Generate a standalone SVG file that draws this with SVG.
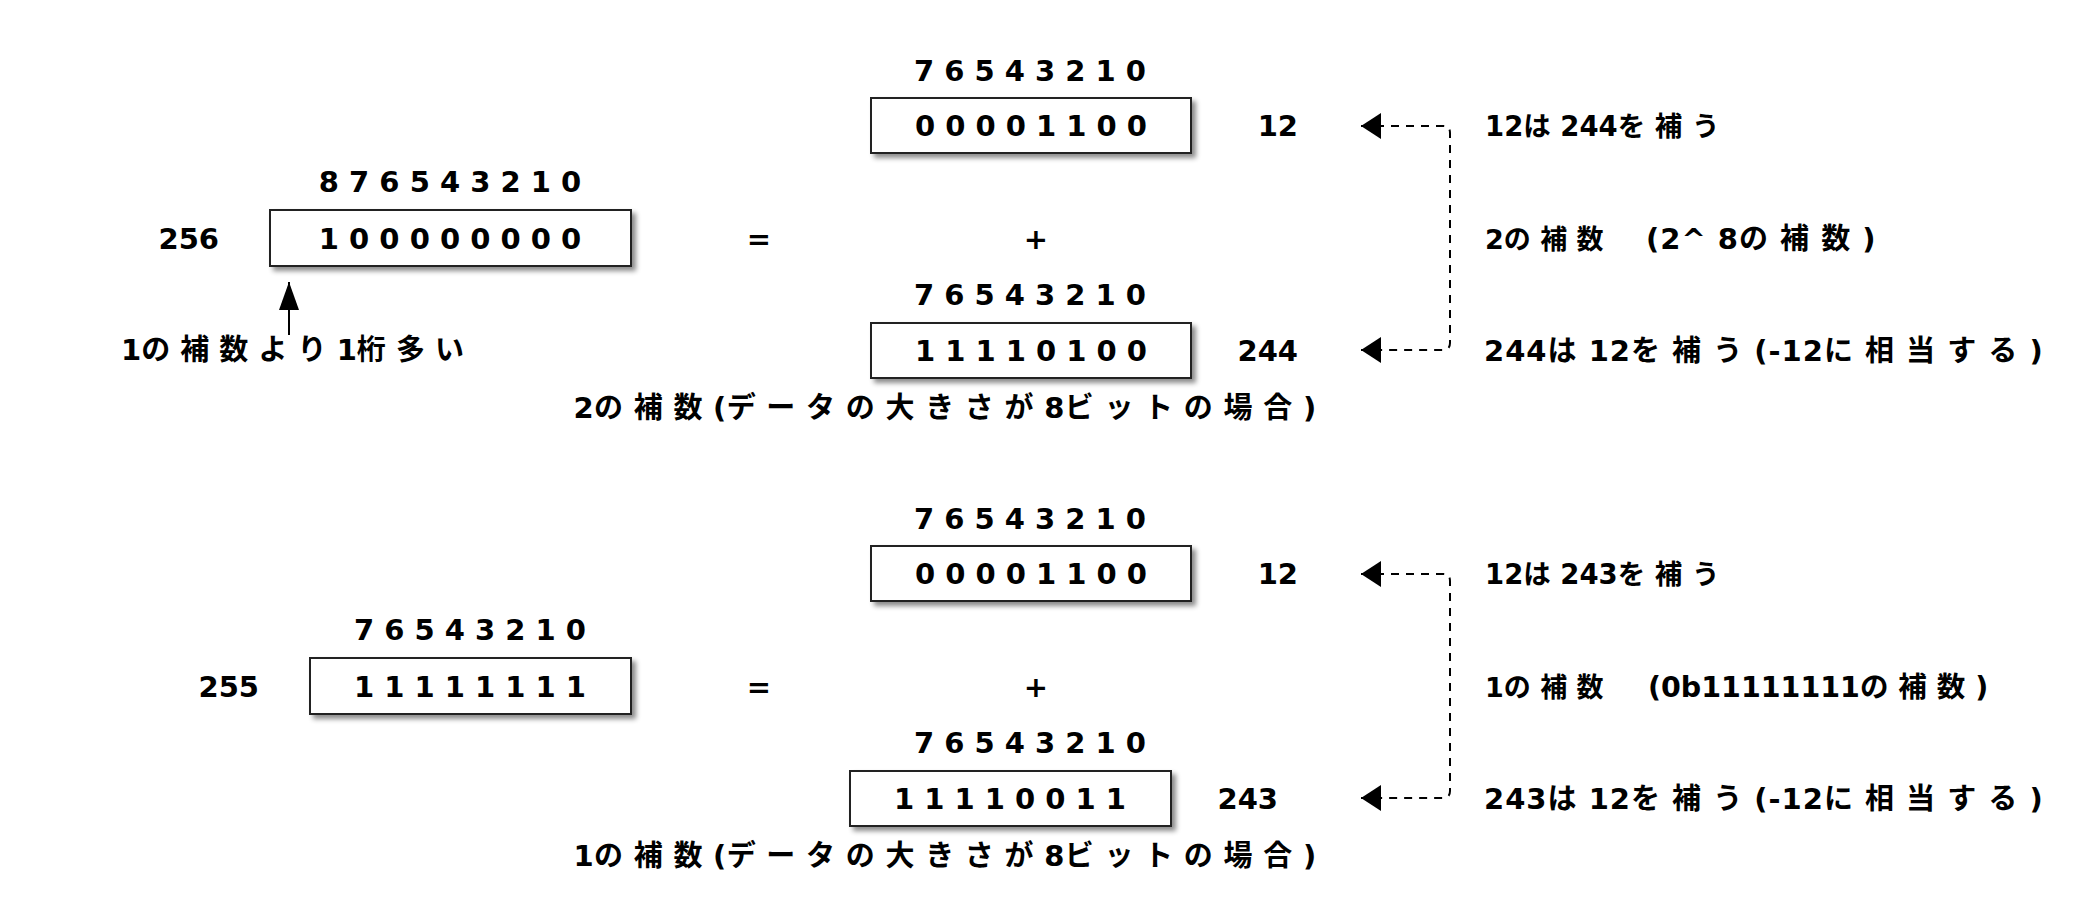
<svg xmlns="http://www.w3.org/2000/svg" width="2080" height="924" viewBox="0 0 2080 924">
<style>
.t{font-family:'DejaVu Sans','Noto Sans CJK JP',sans-serif;font-weight:bold;font-size:29px;fill:#000}
.m{text-anchor:middle}
.e{text-anchor:end}
.j{letter-spacing:1px}
.s{font-size:27.5px}
.s2{font-size:27px}
.s3{font-size:28.5px}
.c{letter-spacing:0.3px}
.box{fill:#fff;stroke:#222;stroke-width:2;filter:url(#sh)}
.dash{fill:none;stroke:#000;stroke-width:2;stroke-dasharray:8 7}
.solid{fill:none;stroke:#000;stroke-width:2}
</style>
<defs>
<filter id="sh" x="-10%" y="-20%" width="130%" height="160%">
<feDropShadow dx="4" dy="4" stdDeviation="2.5" flood-color="#000" flood-opacity="0.45"/>
</filter>
<marker id="ah" viewBox="-20 0 20 26" refX="0" refY="13" markerWidth="20" markerHeight="26" markerUnits="userSpaceOnUse" orient="auto-start-reverse">
<path d="M0,13 L-20,0 L-20,26 Z" fill="#000"/>
</marker>
<marker id="ah2" viewBox="-28 0 28 20" refX="0" refY="10" markerWidth="28" markerHeight="20" markerUnits="userSpaceOnUse" orient="auto">
<path d="M0,10 L-28,0 L-28,20 Z" fill="#000"/>
</marker>
</defs>
<rect width="2080" height="924" fill="#fff"/>

<g id="connectors">
<path class="dash" d="M1361,126 H1443 Q1450,126 1450,133 V343 Q1450,350 1443,350 H1361" marker-start="url(#ah)" marker-end="url(#ah)"/>
<path class="dash" d="M1361,574 H1443 Q1450,574 1450,581 V791 Q1450,798 1443,798 H1361" marker-start="url(#ah)" marker-end="url(#ah)"/>
<path class="solid" d="M289,335 V282" marker-end="url(#ah2)"/>
</g>

<!-- Upper: 2's complement -->
<g id="u-b12">
<text class="t m" x="1030" y="81">7 6 5 4 3 2 1 0</text>
<rect class="box" x="871" y="98" width="320" height="55"/>
<text class="t m" x="1031" y="136">0 0 0 0 1 1 0 0</text>
<text class="t e" x="1298" y="136">12</text>
</g>
<g id="u-b256">
<text class="t m" x="450" y="192">8 7 6 5 4 3 2 1 0</text>
<rect class="box" x="270" y="210" width="361" height="56"/>
<text class="t m" x="450" y="249">1 0 0 0 0 0 0 0 0</text>
<text class="t e" x="219" y="249">256</text>
</g>
<g id="u-ops">
<text class="t m" x="759" y="249">=</text>
<text class="t m" x="1036" y="249">+</text>
</g>
<g id="u-b244">
<text class="t m" x="1030" y="305">7 6 5 4 3 2 1 0</text>
<rect class="box" x="871" y="323" width="320" height="55"/>
<text class="t m" x="1031" y="361">1 1 1 1 0 1 0 0</text>
<text class="t e" x="1298" y="361">244</text>
</g>
<g id="u-notes">
<text class="t s" x="1485" y="136">12は 244を 補 う</text>
<text class="t s2" x="1485" y="249">2の 補 数</text>
<text class="t j" x="1646" y="249">(2^ 8の 補 数 )</text>
<text class="t j" x="1484" y="361">244は 12を 補 う (-12に 相 当 す る )</text>
<text class="t" x="121" y="360">1の 補 数 よ り 1桁 多 い</text>
<text class="t c m" x="945" y="418">2の 補 数 (デ ー タ の 大 き さ が 8ビ ッ ト の 場 合 )</text>
</g>

<!-- Lower: 1's complement -->
<g id="l-b12">
<text class="t m" x="1030" y="529">7 6 5 4 3 2 1 0</text>
<rect class="box" x="871" y="546" width="320" height="55"/>
<text class="t m" x="1031" y="584">0 0 0 0 1 1 0 0</text>
<text class="t e" x="1298" y="584">12</text>
</g>
<g id="l-b255">
<text class="t m" x="470" y="640">7 6 5 4 3 2 1 0</text>
<rect class="box" x="310" y="658" width="321" height="56"/>
<text class="t m" x="470" y="697">1 1 1 1 1 1 1 1</text>
<text class="t e" x="259" y="697">255</text>
</g>
<g id="l-ops">
<text class="t m" x="759" y="697">=</text>
<text class="t m" x="1036" y="697">+</text>
</g>
<g id="l-b243">
<text class="t m" x="1030" y="753">7 6 5 4 3 2 1 0</text>
<rect class="box" x="850" y="771" width="321" height="55"/>
<text class="t m" x="1010" y="809">1 1 1 1 0 0 1 1</text>
<text class="t e" x="1278" y="809">243</text>
</g>
<g id="l-notes">
<text class="t s" x="1485" y="584">12は 243を 補 う</text>
<text class="t s2" x="1485" y="697">1の 補 数</text>
<text class="t s3" x="1648" y="697">(0b11111111の 補 数 )</text>
<text class="t j" x="1484" y="809">243は 12を 補 う (-12に 相 当 す る )</text>
<text class="t c m" x="945" y="866">1の 補 数 (デ ー タ の 大 き さ が 8ビ ッ ト の 場 合 )</text>
</g>
</svg>
